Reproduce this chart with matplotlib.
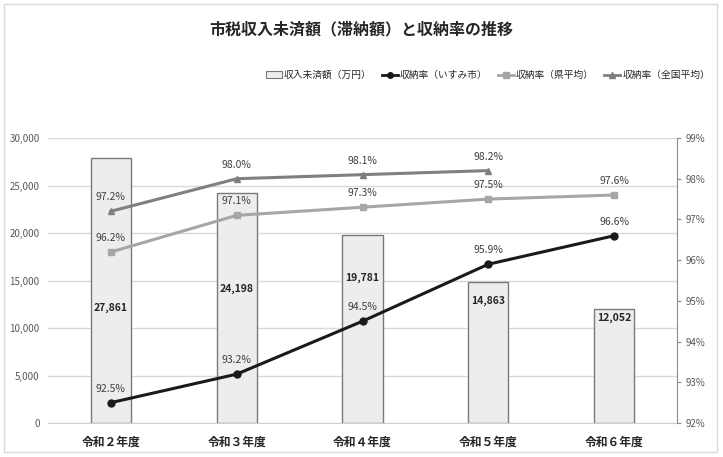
import matplotlib
matplotlib.use("Agg")
import matplotlib.pyplot as plt
from matplotlib.lines import Line2D
from matplotlib.patches import Patch, Rectangle
import matplotlib.ticker as ticker
import numpy as np

plt.rcParams["font.family"] = ["Noto Sans CJK JP", "DejaVu Sans"]

# data
years = ["令和２年度", "令和３年度", "令和４年度", "令和５年度", "令和６年度"]
arrears = [27861, 24198, 19781, 14863, 12052]          # 収入未済額（万円）
arrears_label_y = [12100, 14100, 15260, 12840, 11050]  # where the bar labels sit
rate_isumi = [92.5, 93.2, 94.5, 95.9, 96.6]
rate_pref = [96.2, 97.1, 97.3, 97.5, 97.6]
rate_nation = [97.2, 98.0, 98.1, 98.2]

fig = plt.figure(figsize=(7.23, 4.57), dpi=100)
fig.patches.append(Rectangle((0.005, 0.011), 0.987, 0.98, transform=fig.transFigure,
                             fill=False, edgecolor="#d9d9d9", linewidth=1))
ax = fig.add_axes([0.0664, 0.0744, 0.8700, 0.6236])
ax2 = ax.twinx()

x = np.arange(len(years))
ax.bar(x, arrears, width=0.32, color="#ededed", edgecolor="#7a7a7a",
       linewidth=1.0, zorder=2)
for xi, v, ly in zip(x, arrears, arrears_label_y):
    ax.text(xi, ly, f"{v:,}", ha="center", va="center", fontsize=7.5,
            fontweight="bold", color="#262626", zorder=3)

ax.set_xlim(-0.5, len(years) - 0.5)
ax.set_ylim(0, 30000)
ax.yaxis.set_major_locator(ticker.MultipleLocator(5000))
ax.yaxis.set_major_formatter(ticker.FuncFormatter(lambda v, p: f"{int(v):,}"))
ax.grid(axis="y", color="#d9d9d9", linewidth=1, zorder=0)
ax.set_axisbelow(True)
for s in ["top", "right", "left"]:
    ax.spines[s].set_visible(False)
ax.spines["bottom"].set_color("#d0d0d0")
ax.tick_params(axis="y", length=0, labelsize=7, labelcolor="#595959", pad=6)
ax.tick_params(axis="x", length=0, labelsize=8.5, labelcolor="#262626", pad=9)
ax.set_xticks(x)
ax.set_xticklabels(years, fontweight="bold")

ax2.set_ylim(92, 99)
ax2.yaxis.set_major_locator(ticker.MultipleLocator(1))
ax2.yaxis.set_major_formatter(ticker.FuncFormatter(lambda v, p: f"{int(round(v))}%"))
for s in ["top", "left", "bottom"]:
    ax2.spines[s].set_visible(False)
ax2.spines["right"].set_color("#8c8c8c")
ax2.tick_params(axis="y", length=3, color="#8c8c8c", labelsize=7,
                labelcolor="#595959", pad=3)

series = [
    (rate_nation, "#7f7f7f", "^", 5, "収納率（全国平均）"),
    (rate_pref, "#a6a6a6", "s", 5, "収納率（県平均）"),
    (rate_isumi, "#1a1a1a", "o", 5, "収納率（いすみ市）"),
]
for vals, col, mk, ms, lab in series:
    xs = x[:len(vals)]
    ax2.plot(xs, vals, color=col, linewidth=2.2, marker=mk, markersize=ms,
             zorder=4)
    for xi, v in zip(xs, vals):
        ax2.annotate(f"{v:.1f}%", (xi, v), xytext=(0, 10), textcoords="offset points",
                     ha="center", va="center", fontsize=7.5, color="#404040")

fig.text(0.5, 0.936, "市税収入未済額（滞納額）と収納率の推移", ha="center", va="center",
         fontsize=11.5, fontweight="bold", color="#262626")

handles = [
    Patch(facecolor="#ededed", edgecolor="#7a7a7a", linewidth=0.8),
    Line2D([], [], color="#1a1a1a", linewidth=2, marker="o", markersize=4),
    Line2D([], [], color="#a6a6a6", linewidth=2, marker="s", markersize=4),
    Line2D([], [], color="#7f7f7f", linewidth=2, marker="^", markersize=4),
]
labels = ["収入未済額（万円）", "収納率（いすみ市）", "収納率（県平均）", "収納率（全国平均）"]
fig.legend(handles, labels, loc="center right", bbox_to_anchor=(0.982, 0.836),
           ncol=4, frameon=False, fontsize=7, handlelength=1.7, handletextpad=0.2,
           columnspacing=1.0, borderpad=0, borderaxespad=0, labelcolor="#262626")

fig.savefig("out.png", dpi=100)
